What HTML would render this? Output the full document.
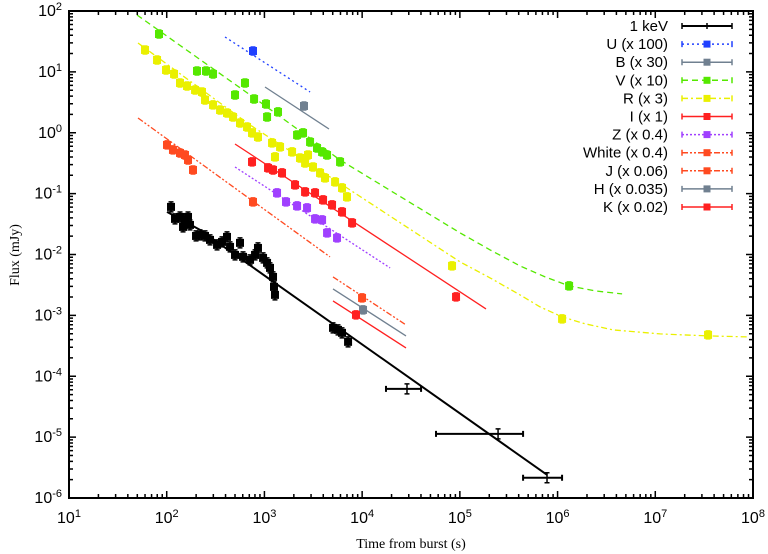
<!DOCTYPE html>
<html><head><meta charset="utf-8"><style>
html,body{margin:0;padding:0;background:#fff;}
svg{display:block;font-family:"Liberation Sans",sans-serif;}
</style></head><body>
<svg id="chart" width="768" height="554" viewBox="0 0 768 554" xmlns="http://www.w3.org/2000/svg">
<rect x="0" y="0" width="768" height="554" fill="#fff"/>
<g id="marks"></g>
<g id="axes"></g>
<g id="legend"></g>
<text x="411" y="548" text-anchor="middle" font-family="'Liberation Serif',serif" font-size="14">Time from burst (s)</text>
<text transform="translate(19,255) rotate(-90)" text-anchor="middle" font-family="'Liberation Serif',serif" font-size="14">Flux (mJy)</text>
</svg>
<script>
// Data stored as log10(time [s]) and log10(flux [mJy])
var xTickExps = [1,2,3,4,5,6,7,8];
var yTickExps = [2,1,0,-1,-2,-3,-4,-5,-6];
var seriesNames = ["1 keV","U (x 100)","B (x 30)","V (x 10)","R (x 3)","I (x 1)","Z (x 0.4)","White (x 0.4)","J (x 0.06)","H (x 0.035)","K (x 0.02)"];
var seriesColors = ["#000000","#2040ff","#708090","#55e800","#eaf000","#ff2020","#a040ff","#ff4a20","#ff4a20","#708090","#ff2020"];
var seriesDash = ["","2,3","","6,4","6,3,2,3","","2,2","6,2,2,2,2,2","6,2,2,2,2,2","",""];

var xrayT = [2.044,2.085,2.136,2.187,2.167,2.218,2.238,2.300,2.341,2.392,2.443,2.515,2.566,2.617,2.648,2.699,2.750,2.781,2.853,2.904,2.934,2.986,3.027,3.057,3.088,3.098,3.108,3.702,3.753,3.794,3.856,4.459,5.391,5.892];
var xrayF = [-1.218,-1.415,-1.383,-1.465,-1.547,-1.383,-1.514,-1.695,-1.678,-1.695,-1.760,-1.842,-1.793,-1.711,-1.875,-2.007,-1.809,-2.039,-2.088,-2.007,-1.892,-2.056,-2.138,-2.220,-2.368,-2.532,-2.663,-3.205,-3.238,-3.287,-3.435,-4.207,-4.946,-5.668];
var xrayTlo = [null,null,null,null,null,null,null,null,null,null,null,null,null,null,null,null,null,null,null,null,null,null,null,null,null,null,null,null,null,null,null,4.244,4.756,5.647];
var xrayThi = [null,null,null,null,null,null,null,null,null,null,null,null,null,null,null,null,null,null,null,null,null,null,null,null,null,null,null,null,null,null,null,4.603,5.647,6.046];
var xrayFitT = [2.003,2.341,3.078,5.892];
var xrayFitF = [-1.300,-1.596,-2.434,-5.619];

var uT = [2.883]; var uF = [1.343];
var uFitT = [2.597,3.467]; var uFitF = [1.573,0.670];
var bT = [3.405]; var bF = [0.440];
var bFitT = [3.006,3.661]; var bFitF = [0.752,0.062];
var vT = [1.921,2.310,2.402,2.474,2.699,2.801,2.894,3.016,3.139,3.027,3.334,3.395,3.467,3.538,3.590,3.641,3.774,6.118];
var vF = [1.622,1.015,1.015,0.966,0.621,0.818,0.555,0.473,0.342,0.259,-0.036,-0.003,-0.151,-0.250,-0.315,-0.365,-0.479,-2.516];
var vFitT = [1.696,2.853,3.774,5.002,5.309,5.616,5.872,6.118,6.384,6.660];
var vFitF = [1.934,0.621,-0.447,-1.645,-1.925,-2.187,-2.368,-2.516,-2.598,-2.647];
var rT = [1.778,1.901,1.993,2.075,2.136,2.208,2.290,2.361,2.392,2.474,2.546,2.617,2.679,2.750,2.822,2.873,2.934,3.078,3.160,3.108,3.283,3.364,3.446,3.416,3.497,3.569,3.620,3.723,3.794,3.845,4.920,6.046,7.540];
var rF = [1.360,1.195,1.031,0.966,0.818,0.768,0.703,0.670,0.539,0.457,0.374,0.325,0.259,0.161,0.095,-0.003,-0.069,-0.167,-0.233,-0.397,-0.315,-0.414,-0.365,-0.496,-0.562,-0.660,-0.742,-0.808,-0.906,-1.054,-2.187,-3.057,-3.320];
var rFitT = [1.706,2.853,3.876,5.002,5.309,5.616,5.821,6.046,6.282,6.568,7.049,7.540,7.950];
var rFitF = [1.475,0.128,-0.939,-2.121,-2.384,-2.663,-2.861,-3.025,-3.139,-3.238,-3.304,-3.337,-3.353];
var iT = [2.873,3.037,3.088,3.180,3.313,3.416,3.518,3.600,3.692,3.794,3.897,4.961];
var iF = [-0.479,-0.578,-0.611,-0.660,-0.857,-0.972,-0.988,-1.103,-1.185,-1.300,-1.481,-2.696];
var iFitT = [2.699,5.268]; var iFitF = [-0.184,-2.894];
var zT = [3.129,3.221,3.334,3.436,3.518,3.590,3.641,3.743];
var zF = [-0.988,-1.136,-1.202,-1.235,-1.415,-1.432,-1.645,-1.727];
var zFitT = [2.699,4.286]; var zFitF = [-0.562,-2.220];
var wT = [2.003,2.064,2.136,2.187,2.218,2.269,2.883];
var wF = [-0.200,-0.282,-0.332,-0.365,-0.447,-0.611,-1.136];
var wFitT = [1.706,3.671]; var wFitF = [0.243,-2.039];
var jT = [3.999]; var jF = [-2.713];
var jFitT = [3.702,4.449]; var jFitF = [-2.368,-3.156];
var hT = [4.009]; var hF = [-2.910];
var hFitT = [3.702,4.449]; var hFitF = [-2.565,-3.337];
var kT = [3.937]; var kF = [-2.991];
var kFitT = [3.702,4.449]; var kFitF = [-2.762,-3.534];

var PL=69, PR=753, PT=11, PB=498;
function X(lt){ return PL + (lt-1)/7*(PR-PL); }
function Y(lf){ return PT + (2-lf)/8*(PB-PT); }
var NS="http://www.w3.org/2000/svg";
function mk(tag, attrs, parent){ var e=document.createElementNS(NS,tag); for(var k in attrs) e.setAttribute(k,attrs[k]); parent.appendChild(e); return e; }

var marks=document.getElementById('marks');
var allSeries = [
 {t:xrayT,f:xrayF,ft:xrayFitT,ff:xrayFitF,ci:0,key:'xray-1kev'},
 {t:uT,f:uF,ft:uFitT,ff:uFitF,ci:1,key:'u-band'},
 {t:bT,f:bF,ft:bFitT,ff:bFitF,ci:2,key:'b-band'},
 {t:vT,f:vF,ft:vFitT,ff:vFitF,ci:3,key:'v-band'},
 {t:rT,f:rF,ft:rFitT,ff:rFitF,ci:4,key:'r-band'},
 {t:iT,f:iF,ft:iFitT,ff:iFitF,ci:5,key:'i-band'},
 {t:zT,f:zF,ft:zFitT,ff:zFitF,ci:6,key:'z-band'},
 {t:wT,f:wF,ft:wFitT,ff:wFitF,ci:7,key:'white-band'},
 {t:jT,f:jF,ft:jFitT,ff:jFitF,ci:8,key:'j-band'},
 {t:hT,f:hF,ft:hFitT,ff:hFitF,ci:9,key:'h-band'},
 {t:kT,f:kF,ft:kFitT,ff:kFitF,ci:10,key:'k-band'}
];
allSeries.forEach(function(s){
  var col=seriesColors[s.ci];
  var d='';
  for(var i=0;i<s.ft.length;i++){ d+=(i?'L':'M')+X(s.ft[i]).toFixed(1)+','+Y(s.ff[i]).toFixed(1); }
  var ln=mk('path',{d:d,fill:'none',stroke:col,'stroke-width':s.ci===0?2:1.3,'stroke-linejoin':'round'},marks);
  if(seriesDash[s.ci]) ln.setAttribute('stroke-dasharray',seriesDash[s.ci]);
  
  
  for(var j=0;j<s.t.length;j++){
    var cx=X(s.t[j]), cy=Y(s.f[j]);
    var g=mk('g',{},marks);
    
    
    var ey=s.ci===0?5:4;
    mk('path',{d:'M'+cx+','+(cy-ey)+'V'+(cy+ey)+'M'+(cx-2.5)+','+(cy-ey)+'h5M'+(cx-2.5)+','+(cy+ey)+'h5',stroke:col,'stroke-width':1.5,fill:'none'},g);
    if(s.ci===0 && xrayTlo[j]!==null){
      var x1=X(xrayTlo[j]), x2=X(xrayThi[j]);
      mk('path',{d:'M'+x1+','+cy+'H'+x2+'M'+x1+','+(cy-3)+'v6M'+x2+','+(cy-3)+'v6',stroke:col,'stroke-width':2,fill:'none'},g);
    } else {
      mk('rect',{x:cx-4,y:cy-4,width:8,height:8,fill:col},g);
    }
  }
});

// axes
var ax=document.getElementById('axes');
var frame=mk('rect',{x:PL,y:PT,width:PR-PL,height:PB-PT,fill:'none',stroke:'#000','stroke-width':2},ax);


var td='';
xTickExps.forEach(function(e){
  var x=X(e);
  td+='M'+x+','+PB+'v-7M'+x+','+PT+'v7';
  if(e<8) for(var m=2;m<10;m++){ var xm=X(e+Math.log10(m)); td+='M'+xm+','+PB+'v-4M'+xm+','+PT+'v4'; }
  var t=mk('text',{x:x,y:PB+25,'text-anchor':'middle','font-size':16},ax);
  
  
  t.innerHTML='10<tspan dy="-6" font-size="11">'+e+'</tspan>';
});
yTickExps.forEach(function(e){
  var y=Y(e);
  td+='M'+PL+','+y+'h7M'+PR+','+y+'h-7';
  if(e>-6) for(var m=2;m<10;m++){ var ym=Y(e-1+Math.log10(m)); td+='M'+PL+','+ym+'h4M'+PR+','+ym+'h-4'; }
  var t=mk('text',{x:62,y:y+5,'text-anchor':'end','font-size':16},ax);
  
  
  t.innerHTML='10<tspan dy="-6" font-size="11">'+e+'</tspan>';
});
var ticks=mk('path',{d:td,stroke:'#000','stroke-width':1.5,fill:'none'},ax);



// legend
var lg=document.getElementById('legend');
seriesNames.forEach(function(n,i){
  var y=26+i*18.1, col=seriesColors[i];
  var g=mk('g',{},lg);
  
  
  var t=mk('text',{x:668,y:y+5,'text-anchor':'end','font-size':15},g);
  t.textContent=n;
  var l=mk('path',{d:'M682,'+y+'H732',stroke:col,'stroke-width':i===0?2:1.5,fill:'none'},g);
  if(seriesDash[i]) l.setAttribute('stroke-dasharray',seriesDash[i]);
  mk('path',{d:'M682,'+(y-3)+'v6M732,'+(y-3)+'v6',stroke:col,'stroke-width':1.5},g);
  if(i===0) mk('path',{d:'M707,'+(y-3)+'v6',stroke:col,'stroke-width':1.5},g);
  else mk('rect',{x:703.5,y:y-3.5,width:7,height:7,fill:col},g);
});
</script>
</body></html>
